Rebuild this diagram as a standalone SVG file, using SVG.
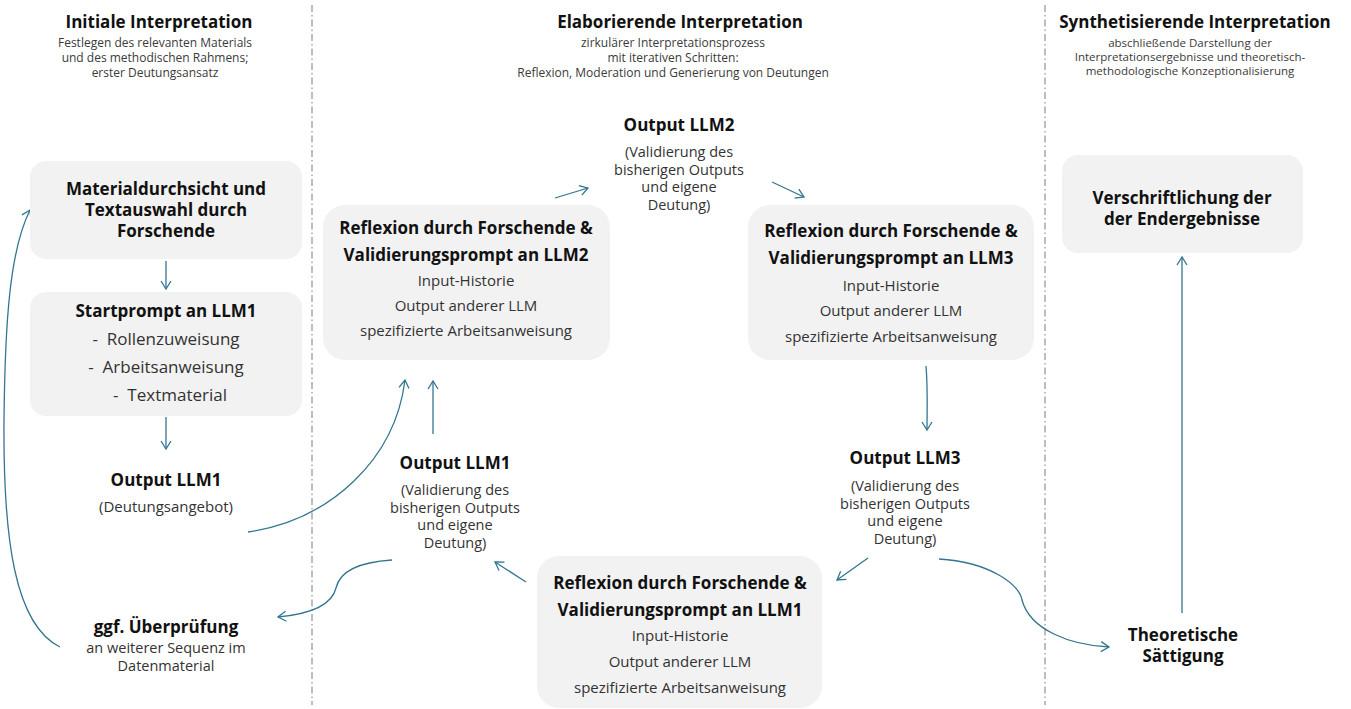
<svg xmlns="http://www.w3.org/2000/svg" width="1351" height="709" viewBox="0 0 1351 709">
<style>
text{font-family:"Open Sans","Liberation Sans",Arial,sans-serif;text-anchor:middle}
.title{font-size:17px;font-weight:bold;fill:#111}
.sub{font-size:12px;fill:#3a3a3a}
.b{font-size:17px;font-weight:bold;fill:#111}
.r{font-size:15px;fill:#333}
.r15{font-size:14.5px;fill:#333}
.r17{font-size:17px;fill:#333;white-space:pre}
.box{fill:#f2f2f2}
.div{stroke:#a8a8a8;stroke-width:1.5;stroke-dasharray:7 3 1.5 3;fill:none}
.c{fill:none;stroke:#33768f;stroke-width:1.3;marker-end:url(#ah)}
</style>
<defs>
<marker id="ah" markerUnits="userSpaceOnUse" markerWidth="14" markerHeight="14" refX="9" refY="6" orient="auto">
<path d="M1,1 L9,6 L1,11" fill="none" stroke="#33768f" stroke-width="1.3"/>
</marker>
</defs>
<rect width="1351" height="709" fill="#fff"/>
<g id="dividers">
<line class="div" x1="312" y1="5" x2="312" y2="705"/>
<line class="div" x1="1045" y1="5" x2="1045" y2="705"/>
</g>
<g id="headers">
<text class="title" x="159" y="28">Initiale Interpretation</text>
<text class="sub" x="155" y="47">Festlegen des relevanten Materials</text>
<text class="sub" x="155" y="62">und des methodischen Rahmens;</text>
<text class="sub" x="155" y="77">erster Deutungsansatz</text>
<text class="title" x="680" y="28">Elaborierende Interpretation</text>
<text class="sub" x="673" y="47">zirkulärer Interpretationsprozess</text>
<text class="sub" x="673" y="62">mit iterativen Schritten:</text>
<text class="sub" x="673" y="77">Reflexion, Moderation und Generierung von Deutungen</text>
<text class="title" x="1195" y="28">Synthetisierende Interpretation</text>
<text class="sub" x="1190" y="47" style="font-size:11.5px">abschließende Darstellung der</text>
<text class="sub" x="1190" y="61" style="font-size:11.5px">Interpretationsergebnisse und theoretisch-</text>
<text class="sub" x="1190" y="75" style="font-size:11.5px">methodologische Konzeptionalisierung</text>
</g>
<g id="connectors">
<path class="c" d="M166 261 L166 289"/>
<path class="c" d="M166 417 L166 449"/>
<path class="c" d="M60 647 C15 625 3 540 4 420 C5 320 10 250 30 210"/>
<path class="c" d="M248 532 C330 520 395 460 405 380"/>
<path class="c" d="M433 434 L433 381"/>
<path class="c" d="M555 198 L588 188"/>
<path class="c" d="M772 182 L804 197"/>
<path class="c" d="M926 366 C928 390 927 410 927 430"/>
<path class="c" d="M868 558 L837 580"/>
<path class="c" d="M526 582 L495 562"/>
<path class="c" d="M392 560 C360 562 340 570 336 588 C332 605 310 614 278 617"/>
<path class="c" d="M939 559 C990 562 1020 585 1022 600 C1030 630 1070 645 1109 647"/>
<path class="c" d="M1182 613 L1182 257"/>
</g>
<g id="n-material">
<rect class="box" x="30" y="161" width="272" height="98" rx="16"/>
<text class="b" x="166" y="195">Materialdurchsicht und</text>
<text class="b" x="166" y="216">Textauswahl durch</text>
<text class="b" x="166" y="237">Forschende</text>
</g>
<g id="n-startprompt">
<rect class="box" x="30" y="292" width="272" height="124" rx="16"/>
<text class="b" x="166" y="317">Startprompt an LLM1</text>
<text class="r17" x="166" y="345">-  Rollenzuweisung</text>
<text class="r17" x="166" y="373">-  Arbeitsanweisung</text>
<text class="r17" x="170" y="401">-  Textmaterial</text>
</g>
<g id="n-output1-left">
<text class="b" x="166" y="486">Output LLM1</text>
<text class="r" x="166" y="512">(Deutungsangebot)</text>
</g>
<g id="n-pruefung">
<text class="b" x="166" y="633">ggf. Überprüfung</text>
<text class="r15" x="166" y="653">an weiterer Sequenz im</text>
<text class="r15" x="166" y="671">Datenmaterial</text>
</g>
<g id="n-llm2-prompt">
<rect class="box" x="323" y="205" width="287" height="155" rx="22"/>
<text class="b" x="466" y="234">Reflexion durch Forschende &amp;</text>
<text class="b" x="466" y="261">Validierungsprompt an LLM2</text>
<text class="r" x="466" y="286">Input-Historie</text>
<text class="r" x="466" y="311">Output anderer LLM</text>
<text class="r" x="466" y="336">spezifizierte Arbeitsanweisung</text>
</g>
<g id="n-output2">
<text class="b" x="679" y="131">Output LLM2</text>
<text class="r15" x="679" y="157">(Validierung des</text>
<text class="r15" x="679" y="174.7">bisherigen Outputs</text>
<text class="r15" x="679" y="192.4">und eigene</text>
<text class="r15" x="679" y="210">Deutung)</text>
</g>
<g id="n-llm3-prompt">
<rect class="box" x="748" y="205" width="286" height="155" rx="22"/>
<text class="b" x="891" y="237">Reflexion durch Forschende &amp;</text>
<text class="b" x="891" y="264">Validierungsprompt an LLM3</text>
<text class="r" x="891" y="291">Input-Historie</text>
<text class="r" x="891" y="316">Output anderer LLM</text>
<text class="r" x="891" y="342">spezifizierte Arbeitsanweisung</text>
</g>
<g id="n-output3">
<text class="b" x="905" y="464">Output LLM3</text>
<text class="r15" x="905" y="491">(Validierung des</text>
<text class="r15" x="905" y="508.7">bisherigen Outputs</text>
<text class="r15" x="905" y="526.4">und eigene</text>
<text class="r15" x="905" y="544">Deutung)</text>
</g>
<g id="n-llm1-prompt">
<rect class="box" x="537" y="556" width="285" height="152" rx="22"/>
<text class="b" x="680" y="589">Reflexion durch Forschende &amp;</text>
<text class="b" x="680" y="616">Validierungsprompt an LLM1</text>
<text class="r" x="680" y="641">Input-Historie</text>
<text class="r" x="680" y="667">Output anderer LLM</text>
<text class="r" x="680" y="693">spezifizierte Arbeitsanweisung</text>
</g>
<g id="n-output1-mid">
<text class="b" x="455" y="469">Output LLM1</text>
<text class="r15" x="455" y="495">(Validierung des</text>
<text class="r15" x="455" y="512.7">bisherigen Outputs</text>
<text class="r15" x="455" y="530.4">und eigene</text>
<text class="r15" x="455" y="548">Deutung)</text>
</g>
<g id="n-saettigung">
<text class="b" x="1183" y="641">Theoretische</text>
<text class="b" x="1183" y="662">Sättigung</text>
</g>
<g id="n-verschriftlichung">
<rect class="box" x="1062" y="155" width="241" height="98" rx="16"/>
<text class="b" x="1182" y="204">Verschriftlichung der</text>
<text class="b" x="1182" y="225">der Endergebnisse</text>
</g>
</svg>
